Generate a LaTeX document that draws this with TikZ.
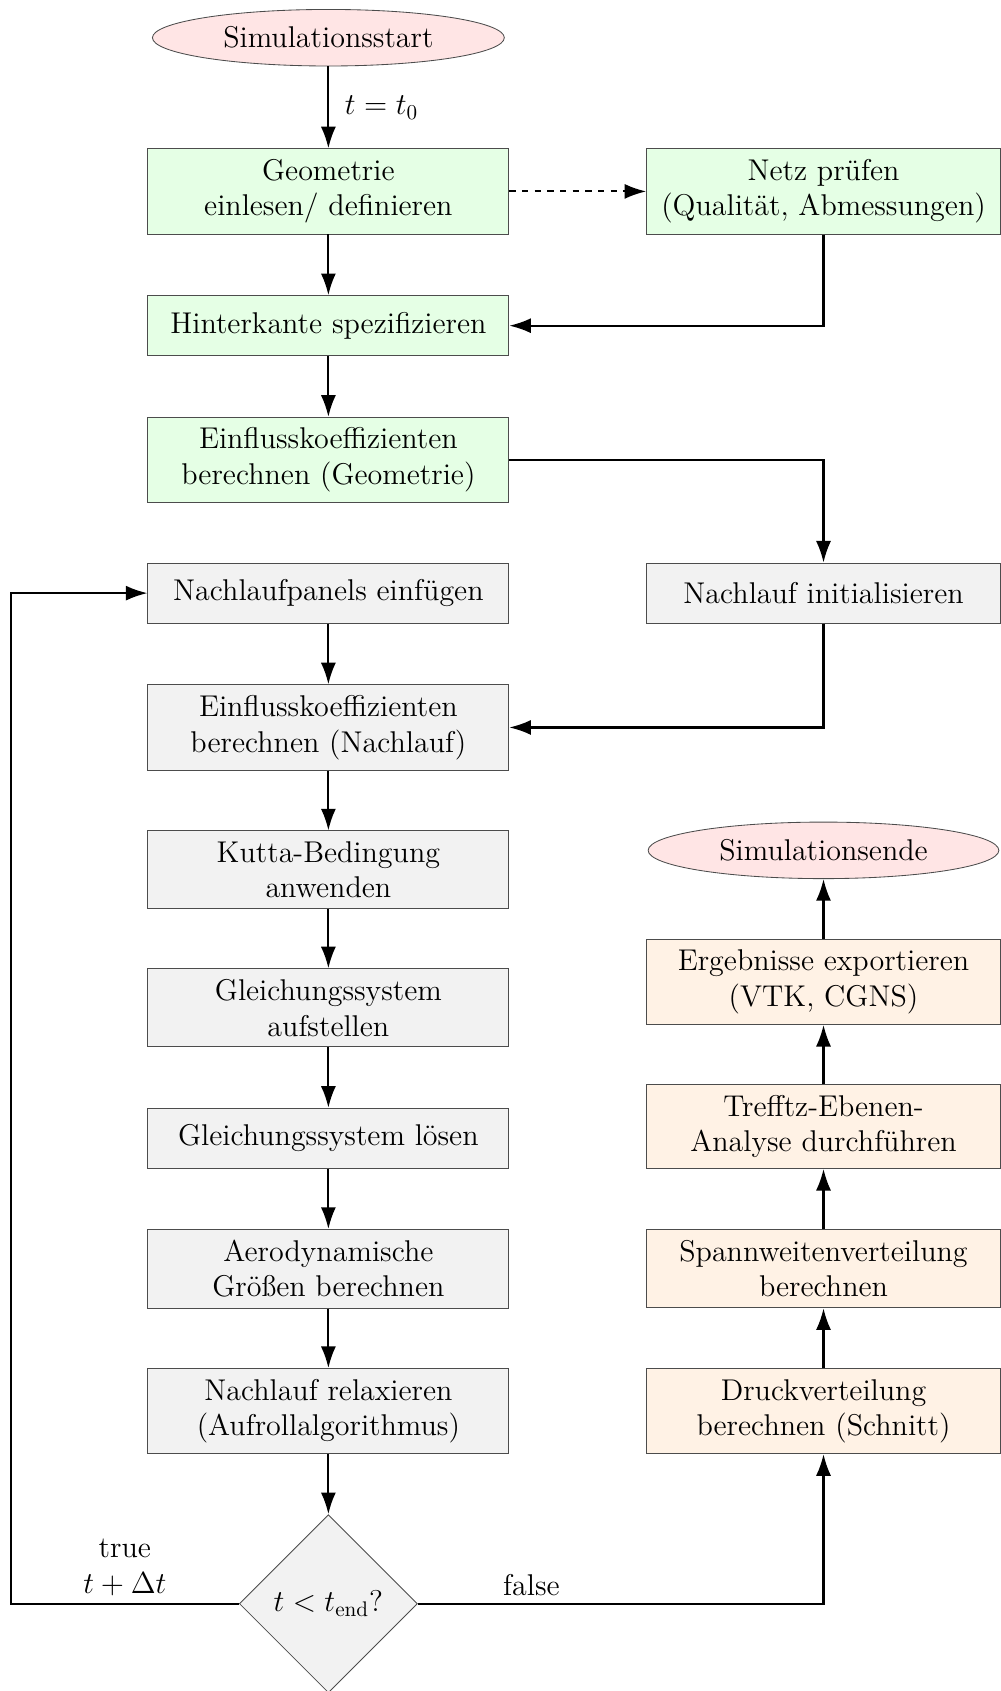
\documentclass[tikz,border=0pt]{standalone}
\usetikzlibrary{shapes.geometric,arrows.meta}
\newcommand{\boxfont}{\fontsize{14.2}{16.8}\selectfont}
\tikzset{
  box/.style={rectangle, draw=black!70, minimum height=1cm, minimum width=6cm, align=center, font=\boxfont, inner sep=5pt},
  rbox/.style={box, minimum width=5.88cm},
  geobox/.style={box, fill=green!10},
  loopbox/.style={box, fill=gray!10},
  postbox/.style={rbox, fill=orange!10},
  terminal/.style={ellipse, draw=black!70, fill=red!10, minimum width=5.85cm, minimum height=0.94cm, inner sep=0pt, font=\boxfont},
  decision/.style={diamond, draw=black!70, fill=gray!10, aspect=1, minimum width=2.96cm, minimum height=2.96cm, inner sep=0pt, font=\boxfont},
  flow/.style={-{Latex[length=3.6mm,width=2.5mm]}, line width=1pt},
}
\begin{document}
\begin{tikzpicture}
\useasboundingbox (0,0) rectangle (16.637,-28.111);
% Vorverarbeitung
\node[terminal] (start) at (5.459,-0.627) {Simulationsstart};
\node[geobox] (geo) at (5.459,-3.182) {Geometrie\\einlesen/ definieren};
\node[geobox, rbox, fill=green!10] (netz) at (13.69,-3.182) {Netz pr\"ufen\\(Qualit\"at, Abmessungen)};
\node[geobox] (hinter) at (5.459,-5.414) {Hinterkante spezifizieren};
\node[geobox] (einfl1) at (5.459,-7.646) {Einflusskoeffizienten\\berechnen (Geometrie)};
% Zeitschleife
\node[loopbox] (panels) at (5.459,-9.86) {Nachlaufpanels einf\"ugen};
\node[loopbox, rbox, fill=gray!10] (init) at (13.69,-9.86) {Nachlauf initialisieren};
\node[loopbox] (einfl2) at (5.459,-12.093) {Einflusskoeffizienten\\berechnen (Nachlauf)};
\node[loopbox] (kutta) at (5.459,-14.459) {Kutta-Bedingung\\anwenden};
\node[loopbox] (gls1) at (5.459,-16.754) {Gleichungssystem\\aufstellen};
\node[loopbox] (gls2) at (5.459,-18.923) {Gleichungssystem l\"osen};
\node[loopbox] (aero) at (5.459,-21.092) {Aerodynamische\\Gr\"o\ss en berechnen};
\node[loopbox] (relax) at (5.459,-23.459) {Nachlauf relaxieren\\(Aufrollalgorithmus)};
\node[decision] (dec) at (5.459,-26.659) {$t<t_{\mathrm{end}}$?};
% Nachbearbeitung
\node[terminal, minimum width=5.83cm] (ende) at (13.69,-14.136) {Simulationsende};
\node[postbox] (ergeb) at (13.69,-16.323) {Ergebnisse exportieren\\(VTK, CGNS)};
\node[postbox] (trefftz) at (13.69,-18.726) {Trefftz-Ebenen-\\Analyse durchf\"uhren};
\node[postbox] (spann) at (13.69,-21.092) {Spannweitenverteilung\\berechnen};
\node[postbox] (druck) at (13.69,-23.459) {Druckverteilung\\berechnen (Schnitt)};
\coordinate (back) at (0.179,-26.659);

\draw[flow] (start) -- node[right, font=\boxfont, xshift=4pt] {$t=t_0$} (geo);
\draw[flow, dashed] (geo) -- (netz);
\draw[flow] (geo) -- (hinter);
\draw[flow] (netz.south) |- (hinter);
\draw[flow] (hinter) -- (einfl1);
\draw[flow] (einfl1) -| (init);
\draw[flow] (panels) -- (einfl2);
\draw[flow] (init) |- (einfl2);
\draw[flow] (einfl2) -- (kutta);
\draw[flow] (kutta) -- (gls1);
\draw[flow] (gls1) -- (gls2);
\draw[flow] (gls2) -- (aero);
\draw[flow] (aero) -- (relax);
\draw[flow] (relax) -- (dec);
\draw[flow] (dec.west) -- node[above, align=center, font=\boxfont] {true\\$t+\Delta t$} (back) |- (panels);
\draw[flow] (dec.east) -| node[above, pos=0.14, font=\boxfont] {false} (druck);
\draw[flow] (druck) -- (spann);
\draw[flow] (spann) -- (trefftz);
\draw[flow] (trefftz) -- (ergeb);
\draw[flow] (ergeb) -- (ende);
\end{tikzpicture}
\end{document}
